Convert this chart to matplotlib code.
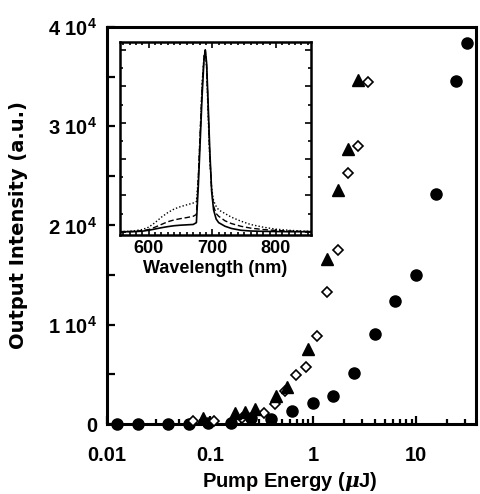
import matplotlib
matplotlib.use("Agg")
import matplotlib.pyplot as plt
from matplotlib.ticker import FixedLocator, FixedFormatter, MultipleLocator, NullFormatter

plt.rcParams['font.family'] = ['Liberation Sans', 'DejaVu Sans']
plt.rcParams['font.weight'] = 'bold'
plt.rcParams['mathtext.fontset'] = 'custom'
plt.rcParams['mathtext.rm'] = 'Liberation Sans:bold'
plt.rcParams['mathtext.bf'] = 'Liberation Sans:bold'
plt.rcParams['mathtext.it'] = 'DejaVu Serif:italic:bold'

# ---- main data ----
circ_x = [0.0124, 0.0198, 0.039, 0.0624, 0.095, 0.158, 0.25, 0.39, 0.63, 0.99, 1.57, 2.49, 3.97, 6.29, 9.96, 15.5, 24.4, 31.0]
circ_y = [0, 0, 0, 50, 100, 150, 570, 470, 1300, 2080, 2820, 5100, 9070, 12420, 15010, 23170, 34560, 38420]

tri_x = [0.085, 0.173, 0.22, 0.275, 0.44, 0.552, 0.887, 1.37, 1.75, 2.18, 2.74]
tri_y = [600, 1140, 1240, 1480, 2820, 3700, 7600, 16590, 23580, 27710, 34660]

dia_x = [0.068, 0.11, 0.206, 0.336, 0.43, 0.536, 0.68, 0.85, 1.08, 1.37, 1.75, 2.19, 2.72, 3.42]
dia_y = [300, 300, 600, 1080, 2020, 3320, 4940, 5710, 8890, 13270, 17530, 25260, 28040, 34490]

y_ticks = [0, 10000, 20000, 30000, 40000]
y_labels = ['0', r'1 10$^{4}$', r'2 10$^{4}$', r'3 10$^{4}$', r'4 10$^{4}$']
x_ticks = [0.01, 0.1, 1, 10]
x_labels = ['0.01', '0.1', '1', '10']

# ---- inset spectra ----
wl = [555, 575, 590, 600, 610, 620, 630, 640, 650, 660, 670, 675, 678, 681, 684, 687, 689, 691, 693, 696, 699, 702, 706, 710, 720, 730, 745, 760, 780, 800, 820, 840, 855]
spec_solid = [0, 0, 0.003, 0.008, 0.015, 0.022, 0.028, 0.033, 0.036, 0.038, 0.04, 0.05, 0.25, 0.5, 0.75, 0.95, 1.0, 0.93, 0.75, 0.45, 0.22, 0.12, 0.07, 0.05, 0.03, 0.018, 0.008, 0.004, 0.002, 0.001, 0, 0, 0]
spec_dashed = [0, 0.002, 0.006, 0.012, 0.025, 0.04, 0.055, 0.065, 0.072, 0.078, 0.085, 0.095, 0.3, 0.55, 0.8, 0.96, 1.0, 0.92, 0.72, 0.42, 0.22, 0.14, 0.1, 0.085, 0.06, 0.045, 0.03, 0.02, 0.012, 0.007, 0.004, 0.002, 0.001]
spec_dotted = [0, 0.004, 0.012, 0.025, 0.05, 0.08, 0.105, 0.125, 0.138, 0.148, 0.158, 0.165, 0.3, 0.55, 0.82, 0.97, 1.0, 0.9, 0.68, 0.4, 0.24, 0.17, 0.14, 0.12, 0.1, 0.08, 0.058, 0.04, 0.025, 0.014, 0.008, 0.004, 0.002]
inset_x_ticks = [600, 700, 800]

W, H = 480, 494
fig = plt.figure(figsize=(W / 100, H / 100), dpi=100)

L, R, T, B = 107, 476, 27, 424
ax = fig.add_axes([L / W, 1 - B / H, (R - L) / W, (B - T) / H])
ax.set_xscale('log')
ax.set_xlim(0.01, 38)
ax.set_ylim(0, 40000)

ax.plot(circ_x, circ_y, 'o', color='black', ms=8, clip_on=False, zorder=3)
ax.plot(dia_x, dia_y, 'D', mfc='white', mec='black', mew=1.2, ms=5.6, clip_on=False, zorder=4)
ax.plot(tri_x, tri_y, '^', color='black', ms=8, clip_on=False, zorder=5)

for s in ax.spines.values():
    s.set_linewidth(2.2)
ax.yaxis.set_major_locator(FixedLocator(y_ticks))
ax.yaxis.set_major_formatter(FixedFormatter(y_labels))
ax.yaxis.set_minor_locator(MultipleLocator(5000))
ax.xaxis.set_major_locator(FixedLocator(x_ticks))
ax.xaxis.set_major_formatter(FixedFormatter(x_labels))
ax.xaxis.set_minor_formatter(NullFormatter())
ax.tick_params(which='both', direction='in', top=False, right=False, labelsize=14.5, width=1.6)
ax.tick_params(axis='y', which='both', length=6, pad=7)
ax.tick_params(axis='x', which='major', length=6, pad=16)
ax.tick_params(axis='x', which='minor', length=3.5)

ax.set_xlabel(r'Pump Energy ($\mathit{\mu}$J)', fontsize=14.5, fontweight='bold')
ax.xaxis.set_label_coords(0.496, -0.115)
ax.set_ylabel('Output Intensity (a.u.)', fontsize=14, fontweight='bold',
              family=['DejaVu Sans'])
ax.yaxis.set_label_coords(-0.215, 0.5)

# ---- inset ----
iL, iR, iT, iB = 120, 311, 42, 235
ins = fig.add_axes([iL / W, 1 - iB / H, (iR - iL) / W, (iB - iT) / H])
ins.plot(wl, spec_dotted, color='black', lw=1.0, ls=(0, (1, 1.5)))
ins.plot(wl, spec_dashed, color='black', lw=1.0, ls=(0, (4, 2)))
ins.plot(wl, spec_solid, color='black', lw=1.2, ls='-')
ins.set_xlim(555, 855)
ins.set_ylim(-0.018, 1.044)
for s in ins.spines.values():
    s.set_linewidth(1.8)
ins.xaxis.set_major_locator(FixedLocator(inset_x_ticks))
ins.xaxis.set_minor_locator(MultipleLocator(10))
ins.yaxis.set_major_locator(MultipleLocator(0.2))
ins.yaxis.set_minor_locator(MultipleLocator(0.1))
ins.yaxis.set_major_formatter(NullFormatter())
ins.tick_params(which='both', direction='in', top=True, right=True, labelsize=13, width=1.2)
ins.tick_params(which='major', length=4)
ins.tick_params(which='minor', length=2.5)
ins.set_xlabel('Wavelength (nm)', fontsize=13, fontweight='bold', labelpad=2)

fig.savefig('out.png', dpi=100)
